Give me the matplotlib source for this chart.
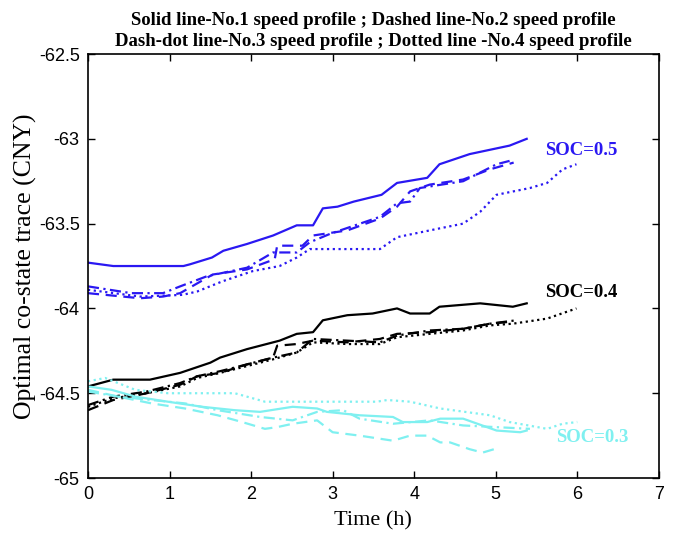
import matplotlib
matplotlib.use("Agg")
import matplotlib.pyplot as plt

# ---- data (time in h, co-state in CNY) ----
# SOC = 0.5 (blue)
b1_t = [0, 0.31, 1.17, 1.25, 1.52, 1.66, 1.95, 2.27, 2.56, 2.76, 2.88, 3.06, 3.26, 3.6, 3.79, 4.16, 4.31, 4.68, 5.17, 5.38]
b1_v = [-63.73, -63.75, -63.75, -63.74, -63.70, -63.66, -63.62, -63.57, -63.51, -63.51, -63.41, -63.40, -63.37, -63.33, -63.26, -63.23, -63.15, -63.09, -63.04, -63.00]
b2_t = [0, 0.64, 0.92, 1.13, 1.53, 1.95, 2.29, 2.32, 2.63, 2.76, 3.18, 3.58, 3.79, 3.95, 4.19, 4.6, 4.93, 5.22]
b2_v = [-63.91, -63.94, -63.93, -63.91, -63.80, -63.77, -63.71, -63.63, -63.63, -63.57, -63.54, -63.47, -63.40, -63.31, -63.27, -63.24, -63.18, -63.14]
b3_t = [0, 0.53, 0.92, 1.13, 1.46, 1.95, 2.27, 2.56, 2.72, 2.97, 3.58, 3.79, 3.95, 4.07, 4.6, 5.01, 5.17]
b3_v = [-63.87, -63.91, -63.91, -63.87, -63.81, -63.76, -63.67, -63.67, -63.61, -63.56, -63.46, -63.38, -63.37, -63.29, -63.25, -63.15, -63.13]
b4_t = [0, 0.64, 1.16, 1.34, 1.65, 2.02, 2.35, 2.56, 2.72, 3.58, 3.79, 4.19, 4.6, 4.81, 5.01, 5.42, 5.63, 5.82, 5.99]
b4_v = [-63.89, -63.93, -63.92, -63.90, -63.84, -63.78, -63.75, -63.70, -63.65, -63.65, -63.58, -63.54, -63.50, -63.43, -63.33, -63.29, -63.26, -63.18, -63.15]

# SOC = 0.4 (black)
k1_t = [0, 0.31, 0.76, 1.13, 1.5, 1.62, 1.95, 2.35, 2.56, 2.76, 2.88, 3.18, 3.49, 3.79, 3.95, 4.19, 4.31, 4.81, 5.21, 5.38]
k1_v = [-64.46, -64.42, -64.42, -64.38, -64.32, -64.29, -64.24, -64.19, -64.15, -64.14, -64.07, -64.04, -64.03, -64.00, -64.03, -64.03, -63.99, -63.97, -63.99, -63.97]
k2_t = [0, 0.31, 0.72, 1.13, 1.34, 1.62, 1.95, 2.27, 2.32, 2.56, 2.76, 3.18, 3.58, 3.79, 4.19, 4.6, 4.93, 5.15]
k2_v = [-64.60, -64.54, -64.50, -64.45, -64.40, -64.38, -64.33, -64.29, -64.22, -64.21, -64.19, -64.20, -64.18, -64.15, -64.14, -64.12, -64.09, -64.08]
k3_t = [0, 0.31, 0.72, 1.13, 1.34, 1.62, 1.95, 2.27, 2.56, 2.76, 3.18, 3.58, 3.79, 4.19, 4.6, 4.93, 5.25]
k3_v = [-64.57, -64.52, -64.49, -64.44, -64.40, -64.37, -64.33, -64.29, -64.26, -64.18, -64.19, -64.20, -64.16, -64.13, -64.12, -64.09, -64.07]
k4_t = [0, 0.31, 0.72, 1.13, 1.34, 1.62, 1.95, 2.27, 2.56, 2.76, 3.18, 3.58, 3.79, 4.19, 4.6, 4.93, 5.21, 5.63, 5.99]
k4_v = [-64.58, -64.53, -64.50, -64.46, -64.41, -64.38, -64.34, -64.30, -64.26, -64.20, -64.21, -64.21, -64.17, -64.15, -64.13, -64.10, -64.09, -64.06, -64.00]

# SOC = 0.3 (cyan)
c1_t = [0, 0.29, 0.58, 0.98, 1.40, 1.80, 2.11, 2.51, 2.81, 2.93, 3.33, 3.74, 3.86, 4.16, 4.32, 4.60, 5.01, 5.30, 5.38]
c1_v = [-64.46, -64.48, -64.52, -64.55, -64.58, -64.60, -64.61, -64.58, -64.59, -64.61, -64.63, -64.64, -64.67, -64.67, -64.65, -64.65, -64.72, -64.73, -64.72]
c2_t = [0, 0.37, 0.78, 1.19, 1.59, 1.89, 2.17, 2.32, 2.51, 2.81, 3.00, 3.33, 3.74, 3.95, 4.16, 4.32, 4.44, 4.68, 4.84, 5.05]
c2_v = [-64.48, -64.52, -64.56, -64.59, -64.63, -64.67, -64.71, -64.70, -64.68, -64.66, -64.73, -64.75, -64.78, -64.75, -64.75, -64.79, -64.79, -64.83, -64.85, -64.82]
c3_t = [0, 0.37, 0.78, 1.19, 1.59, 2.11, 2.51, 2.81, 3.13, 3.33, 3.74, 4.19, 4.60, 5.01, 5.42]
c3_v = [-64.49, -64.52, -64.54, -64.56, -64.60, -64.64, -64.66, -64.61, -64.60, -64.65, -64.68, -64.66, -64.69, -64.70, -64.71]
c4_t = [0, 0.21, 0.58, 0.98, 1.40, 1.80, 2.17, 2.72, 3.54, 3.67, 3.95, 4.32, 4.93, 5.17, 5.63, 5.82, 6.0]
c4_v = [-64.43, -64.41, -64.48, -64.50, -64.50, -64.50, -64.55, -64.55, -64.55, -64.54, -64.55, -64.59, -64.63, -64.67, -64.71, -64.68, -64.67]

x_ticks = [0, 1, 2, 3, 4, 5, 6, 7]
y_ticks = [-65, -64.5, -64, -63.5, -63, -62.5]
y_ticklabels = ["-65", "-64.5", "-64", "-63.5", "-63", "-62.5"]

blue = '#2a18f2'
black = '#000000'
cyan = '#7ff0f0'

styles = {
    'solid': '-',
    'dashed': (0, (5, 3)),
    'dashdot': (0, (5, 2, 1, 2)),
    'dotted': (0, (1, 1.6)),
}

serif = 'Liberation Serif'
sans = 'Liberation Sans'

fig = plt.figure(figsize=(6.82, 5.35), dpi=100)
ax = fig.add_axes([0.129, 0.1065, 0.837, 0.7925])

groups = [
    (blue, [(b1_t, b1_v), (b2_t, b2_v), (b3_t, b3_v), (b4_t, b4_v)]),
    (black, [(k1_t, k1_v), (k2_t, k2_v), (k3_t, k3_v), (k4_t, k4_v)]),
    (cyan, [(c1_t, c1_v), (c2_t, c2_v), (c3_t, c3_v), (c4_t, c4_v)]),
]
order = ['solid', 'dashed', 'dashdot', 'dotted']
for color, lines in groups:
    for (t, v), name in zip(lines, order):
        ax.plot(t, v, color=color, linestyle=styles[name], linewidth=1.6)

ax.text(5.61, -63.07, 'SOC=0.5', color=blue, fontsize=13.5, fontweight='bold',
        family=serif, va='center', ha='left')
ax.text(5.61, -63.905, 'SOC=0.4', color=black, fontsize=13.5, fontweight='bold',
        family=serif, va='center', ha='left')
ax.text(5.74, -64.76, 'SOC=0.3', color=cyan, fontsize=13.5, fontweight='bold',
        family=serif, va='center', ha='left')

ax.set_xlim(0, 7)
ax.set_ylim(-65, -62.5)
ax.set_xticks(x_ticks)
ax.set_yticks(y_ticks)
ax.set_yticklabels(y_ticklabels)
ax.tick_params(direction='in', top=True, right=True, length=5, width=1,
               labelsize=13, pad=6)
for lab in ax.get_xticklabels() + ax.get_yticklabels():
    lab.set_family(sans)
for s in ax.spines.values():
    s.set_linewidth(1.2)

ax.set_xlabel('Time (h)', family=serif, fontsize=16, labelpad=6)
ax.set_ylabel('Optimal co-state trace (CNY)', family=serif, fontsize=18.5, labelpad=1)
ax.set_title('Solid line-No.1 speed profile ; Dashed line-No.2 speed profile\n'
             'Dash-dot line-No.3 speed profile ; Dotted line -No.4 speed profile',
             family=serif, fontweight='bold', fontsize=13.5, pad=6, linespacing=1.27)

fig.savefig('out.png', dpi=100, facecolor='white')
